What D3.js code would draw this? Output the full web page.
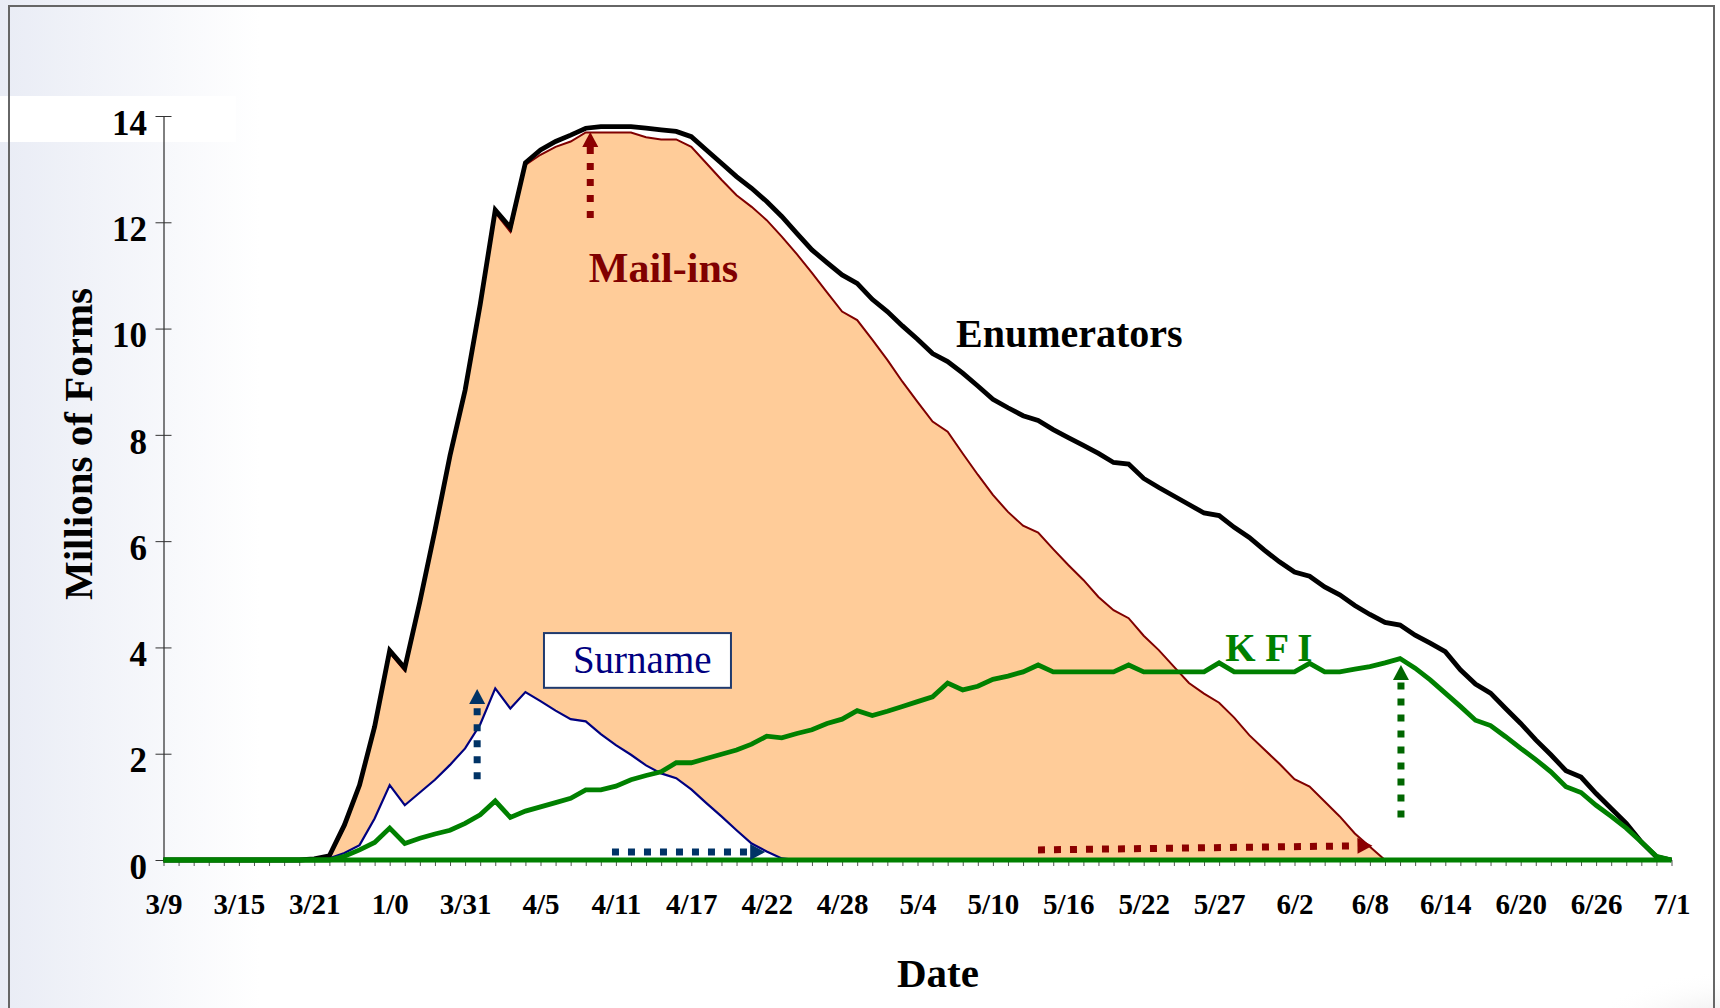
<!DOCTYPE html>
<html lang="en">

<head>
  <meta charset="UTF-8">
  <title>Millions of Forms</title>
  <style>
    body { margin: 0; background: #fff; }
    svg { display: block; font-family: 'Times New Roman', 'Liberation Serif', serif; }
  </style>
</head>

<body>
  <svg id="chart"></svg>

  <script src="https://cdn.jsdelivr.net/npm/d3@7/dist/d3.min.js"></script>
  <script>
    // category labels, one every 5 points
    var tickLabels = ['3/9', '3/15', '3/21', '1/0', '3/31', '4/5', '4/11', '4/17', '4/22', '4/28',
      '5/4', '5/10', '5/16', '5/22', '5/27', '6/2', '6/8', '6/14', '6/20', '6/26', '7/1'];

    var enumerators = [0, 0, 0, 0, 0, 0, 0, 0, 0, 0,
      0.02, 0.08, 0.66, 1.41, 2.51, 3.94, 3.61, 4.86, 6.2, 7.61,
      8.84, 10.45, 12.23, 11.9, 13.12, 13.36, 13.52, 13.64, 13.77, 13.8,
      13.8, 13.8, 13.77, 13.74, 13.71, 13.61, 13.36, 13.11, 12.86, 12.64,
      12.39, 12.11, 11.79, 11.48, 11.24, 11.01, 10.85, 10.55, 10.32, 10.05,
      9.8, 9.53, 9.38, 9.16, 8.92, 8.67, 8.51, 8.36, 8.27, 8.1,
      7.95, 7.8, 7.65, 7.48, 7.45, 7.18, 7.01, 6.85, 6.69, 6.53,
      6.48, 6.26, 6.07, 5.83, 5.61, 5.42, 5.34, 5.14, 4.99, 4.79,
      4.62, 4.47, 4.42, 4.23, 4.08, 3.92, 3.58, 3.31, 3.14, 2.85,
      2.57, 2.26, 1.98, 1.68, 1.56, 1.25, 0.97, 0.69, 0.34, 0.06,
      0];

    var mailIns = [0, 0, 0, 0, 0, 0, 0, 0, 0, 0,
      0, 0.05, 0.62, 1.38, 2.48, 3.9, 3.56, 4.82, 6.15, 7.57,
      8.8, 10.4, 12.18, 11.82, 13.08, 13.27, 13.42, 13.52, 13.69, 13.69,
      13.69, 13.69, 13.6, 13.56, 13.56, 13.42, 13.11, 12.8, 12.51, 12.29,
      12.04, 11.73, 11.4, 11.05, 10.68, 10.32, 10.16, 9.79, 9.41, 9.0,
      8.62, 8.25, 8.06, 7.65, 7.25, 6.87, 6.55, 6.29, 6.16, 5.85,
      5.55, 5.27, 4.95, 4.7, 4.55, 4.22, 3.95, 3.64, 3.33, 3.13,
      2.96, 2.68, 2.35, 2.08, 1.81, 1.52, 1.38, 1.1, 0.82, 0.5,
      0.25, 0, 0, 0, 0, 0, 0, 0, 0, 0,
      0, 0, 0, 0, 0, 0, 0, 0, 0, 0,
      0];

    var surname = [0, 0, 0, 0, 0, 0, 0, 0, 0, 0,
      0, 0.03, 0.13, 0.28, 0.78, 1.41, 1.03, 1.27, 1.51, 1.79,
      2.1, 2.55, 3.23, 2.85, 3.16, 2.99, 2.81, 2.65, 2.61, 2.37,
      2.16, 1.98, 1.78, 1.63, 1.54, 1.33, 1.07, 0.82, 0.56, 0.31,
      0.16, 0.03, 0, 0, 0, 0, 0, 0, 0, 0,
      0, 0, 0, 0, 0, 0, 0, 0, 0, 0,
      0, 0, 0, 0, 0, 0, 0, 0, 0, 0,
      0, 0, 0, 0, 0, 0, 0, 0, 0, 0,
      0, 0, 0, 0, 0, 0, 0, 0, 0, 0,
      0, 0, 0, 0, 0, 0, 0, 0, 0, 0,
      0];

    var kfi = [0, 0, 0, 0, 0, 0, 0, 0, 0, 0,
      0, 0, 0.07, 0.19, 0.33, 0.6, 0.31, 0.41, 0.49, 0.56,
      0.69, 0.85, 1.11, 0.8, 0.92, 1.0, 1.08, 1.16, 1.32, 1.32,
      1.39, 1.51, 1.59, 1.66, 1.83, 1.83, 1.91, 1.99, 2.07, 2.18,
      2.33, 2.3, 2.38, 2.45, 2.57, 2.65, 2.81, 2.72, 2.8, 2.89,
      2.98, 3.07, 3.33, 3.2, 3.27, 3.4, 3.46, 3.54, 3.67, 3.54,
      3.54, 3.54, 3.54, 3.54, 3.67, 3.54, 3.54, 3.54, 3.54, 3.54,
      3.71, 3.54, 3.54, 3.54, 3.54, 3.54, 3.7, 3.54, 3.54, 3.59,
      3.64, 3.71, 3.79, 3.61, 3.39, 3.14, 2.89, 2.63, 2.53, 2.32,
      2.1, 1.89, 1.66, 1.38, 1.27, 1.03, 0.82, 0.6, 0.34, 0.07,
      0];

    var yTicks = [0, 2, 4, 6, 8, 10, 12, 14];

    var W = 1720, H = 1008;
    var svg = d3.select('#chart').attr('width', W).attr('height', H);

    /******************* slide background *******************/
    var defs = svg.append('defs');
    var lg = defs.append('linearGradient').attr('id', 'side');
    lg.append('stop').attr('offset', '0%').attr('stop-color', '#e9ecf5');
    lg.append('stop').attr('offset', '100%').attr('stop-color', '#ffffff');
    var rg = defs.append('radialGradient').attr('id', 'swoosh');
    rg.append('stop').attr('offset', '0%').attr('stop-color', '#d4d4d4');
    rg.append('stop').attr('offset', '100%').attr('stop-color', '#ffffff').attr('stop-opacity', 0);

    svg.append('rect').attr('x', 0).attr('y', 0).attr('width', 260).attr('height', H).attr('fill', 'url(#side)');
    svg.append('rect').attr('x', 0).attr('y', 96).attr('width', 236).attr('height', 46).attr('fill', '#fff');
    svg.append('ellipse').attr('cx', 1740).attr('cy', 1040).attr('rx', 160).attr('ry', 70).attr('fill', 'url(#swoosh)');
    svg.append('path')
      .attr('d', 'M9,1008 V6 H1714 V1008')
      .attr('fill', 'none').attr('stroke', '#666').attr('stroke-width', 2);

    /******************* scales *******************/
    var x = d3.scaleLinear().domain([0, 100]).range([163.5, 1671.5]);
    var y = d3.scaleLinear().domain([0, 14]).range([860, 116]);
    var idx = d3.range(enumerators.length);

    /******************* axes *******************/
    var gy = svg.append('g').attr('transform', 'translate(' + x(0) + ',0)')
      .call(d3.axisLeft(y).tickValues(yTicks).tickSizeInner(8).tickSizeOuter(0).tickPadding(8.5));
    gy.selectAll('.tick line').attr('x1', -8).attr('x2', 8).attr('stroke', '#333');
    gy.select('.domain').attr('stroke', '#000');
    gy.selectAll('text')
      .attr('dy', '0.52em')
      .style('font-family', "'Times New Roman', 'Liberation Serif', serif")
      .style('font-size', '35px').style('font-weight', 'bold').attr('fill', '#000');

    var gx = svg.append('g').attr('transform', 'translate(0,' + y(0) + ')')
      .call(d3.axisBottom(x).tickValues(idx).tickSizeInner(6).tickSizeOuter(0).tickFormat(''));
    gx.selectAll('.tick line').attr('stroke', '#555');
    gx.select('.domain').remove();

    var gxl = svg.append('g').attr('transform', 'translate(0,' + y(0) + ')')
      .call(d3.axisBottom(x).tickValues(d3.range(0, 101, 5)).tickSize(0).tickPadding(33)
        .tickFormat(d => tickLabels[d / 5]));
    gxl.select('.domain').remove();
    gxl.selectAll('text')
      .style('font-family', "'Times New Roman', 'Liberation Serif', serif")
      .style('font-size', '29px').style('font-weight', 'bold').attr('fill', '#000');

    svg.append('text')
      .attr('transform', 'translate(92,444) rotate(-90)')
      .attr('text-anchor', 'middle')
      .style('font-size', '41px').style('font-weight', 'bold')
      .text('Millions of Forms');
    svg.append('text')
      .attr('x', 938).attr('y', 987)
      .attr('text-anchor', 'middle')
      .style('font-size', '41px').style('font-weight', 'bold')
      .text('Date');

    /******************* series *******************/
    var area = vals => d3.area().x(i => x(i)).y0(y(0)).y1(i => y(vals[i]))(idx);
    var line = vals => d3.line().x(i => x(i)).y(i => y(vals[i]))(idx);

    // mail-ins: peach area with a thin dark red edge
    svg.append('path').attr('d', area(mailIns)).attr('fill', '#ffcc99');
    svg.append('path').attr('d', line(mailIns)).attr('fill', 'none')
      .attr('stroke', '#800000').attr('stroke-width', 2);

    // surname: white area over the mail-ins
    svg.append('path').attr('d', area(surname)).attr('fill', '#fff');
    svg.append('path').attr('d', line(surname)).attr('fill', 'none')
      .attr('stroke', '#000080').attr('stroke-width', 2.2);

    svg.append('path').attr('d', line(enumerators)).attr('fill', 'none')
      .attr('stroke', '#000').attr('stroke-width', 4.8);

    // green zero line along the category axis
    svg.append('line')
      .attr('x1', x(0)).attr('x2', x(100)).attr('y1', y(0)).attr('y2', y(0))
      .attr('stroke', '#008000').attr('stroke-width', 4.8);

    svg.append('path').attr('d', line(kfi)).attr('fill', 'none')
      .attr('stroke', '#008000').attr('stroke-width', 4.8);

    /******************* annotations *******************/
    function arrow(x0, y0, x1, y1, color) {
      var p0 = [x(x0), y(y0)], p1 = [x(x1), y(y1)];
      var dx = p1[0] - p0[0], dy = p1[1] - p0[1], len = Math.hypot(dx, dy);
      var ux = dx / len, uy = dy / len, hl = 15, hw = 8;
      var bx = p1[0] - ux * hl, by = p1[1] - uy * hl;
      svg.append('line')
        .attr('x1', p0[0]).attr('y1', p0[1]).attr('x2', bx).attr('y2', by)
        .attr('stroke', color).attr('stroke-width', 7).attr('stroke-dasharray', '7,9');
      svg.append('path')
        .attr('d', 'M' + p1[0] + ',' + p1[1] +
          'L' + (bx - uy * hw) + ',' + (by + ux * hw) +
          'L' + (bx + uy * hw) + ',' + (by - ux * hw) + 'Z')
        .attr('fill', color);
    }

    arrow(28.3, 12.08, 28.3, 13.7, '#8b0000');
    arrow(20.8, 1.52, 20.8, 3.22, '#003366');
    arrow(29.74, 0.15, 39.9, 0.15, '#003366');
    arrow(57.99, 0.19, 80.17, 0.27, '#8b0000');
    arrow(82.06, 0.8, 82.06, 3.67, '#006600');

    svg.append('text')
      .attr('x', x(28.2)).attr('y', y(10.88))
      .style('font-size', '42px').style('font-weight', 'bold').attr('fill', '#800000')
      .text('Mail-ins');
    svg.append('text')
      .attr('x', x(52.55)).attr('y', y(9.65))
      .style('font-size', '40px').style('font-weight', 'bold').attr('fill', '#000')
      .text('Enumerators');
    svg.append('text')
      .attr('x', x(70.4)).attr('y', y(3.75))
      .attr('xml:space', 'preserve')
      .style('font-size', '39px').style('font-weight', 'bold').attr('fill', '#008000')
      .text('K F I');

    svg.append('rect')
      .attr('x', x(25.23)).attr('y', y(4.27))
      .attr('width', x(37.63) - x(25.23)).attr('height', y(3.24) - y(4.27))
      .attr('fill', '#fff').attr('stroke', '#1f3a6e').attr('stroke-width', 2);
    svg.append('text')
      .attr('x', x(27.15)).attr('y', y(3.52))
      .style('font-size', '39px').attr('fill', '#000080')
      .text('Surname');
  </script>
</body>

</html>
